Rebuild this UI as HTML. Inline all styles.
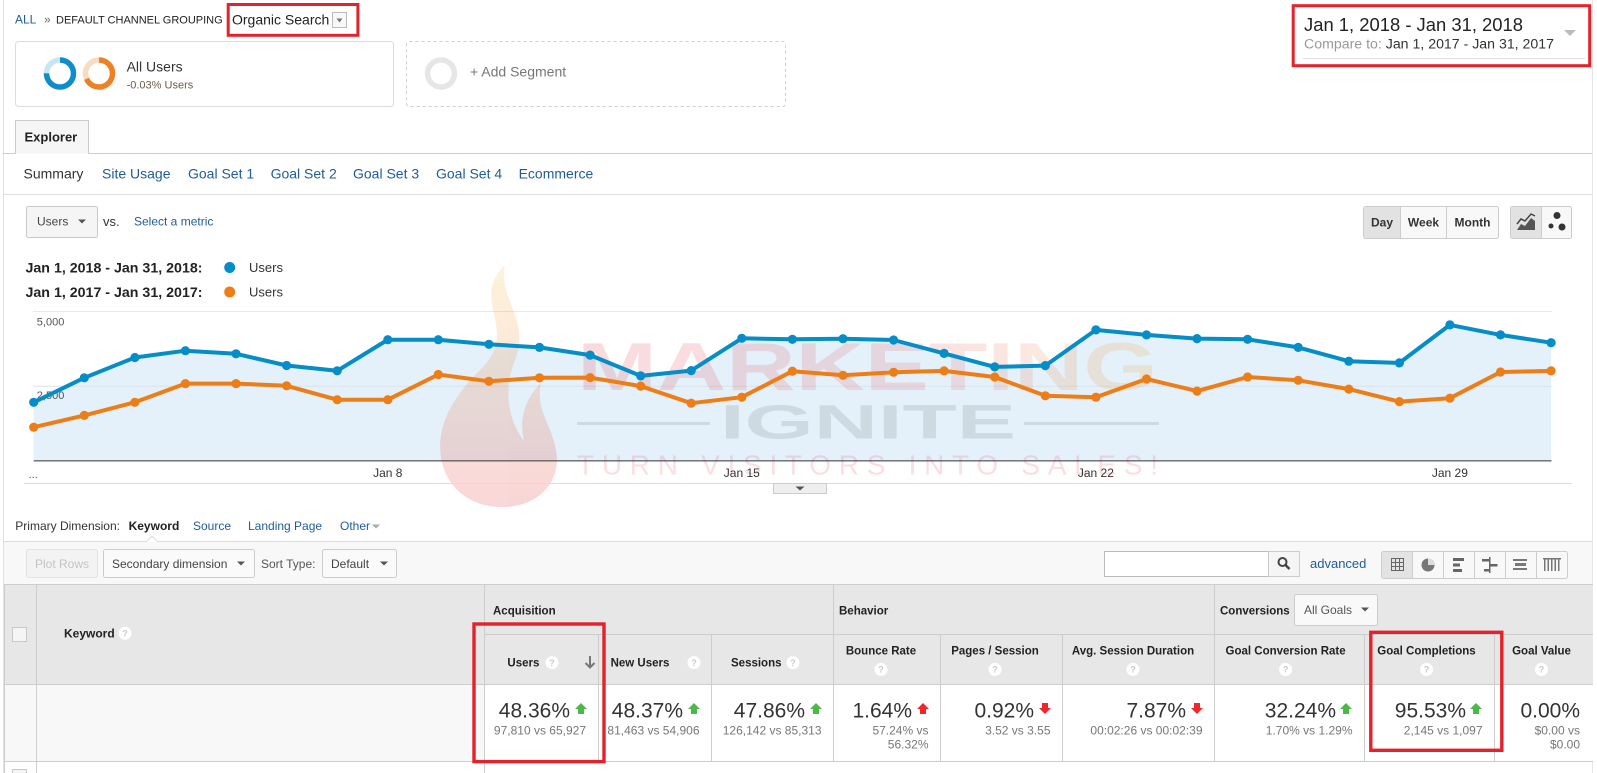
<!DOCTYPE html>
<html><head><meta charset="utf-8">
<style>
html,body{margin:0;padding:0;background:#fff;width:1597px;height:773px;overflow:hidden;}
svg{display:block}
text{font-family:"Liberation Sans",Arial,sans-serif;}
</style></head>
<body>
<svg width="1597" height="773" viewBox="0 0 1597 773" xmlns="http://www.w3.org/2000/svg">
<defs>
<linearGradient id="flame" x1="0" y1="0" x2="0" y2="1">
<stop offset="0" stop-color="#f6c34a"/><stop offset="0.5" stop-color="#ef7a3a"/><stop offset="1" stop-color="#e3343a"/>
</linearGradient>
<linearGradient id="mk" x1="0" y1="0" x2="1" y2="0">
<stop offset="0" stop-color="#e4505e"/><stop offset="0.6" stop-color="#e8707a"/><stop offset="1" stop-color="#f2b24a"/>
</linearGradient>
</defs>
<rect width="1597" height="773" fill="#fff"/>
<line x1="3.5" y1="0" x2="3.5" y2="773" stroke="#e2e2e2"/>
<line x1="1592.5" y1="0" x2="1592.5" y2="773" stroke="#e6e6e6"/>

<!-- breadcrumb -->
<text x="15" y="23.4" font-size="12" fill="#1f5c99">ALL</text>
<text x="44" y="23.4" font-size="12" fill="#666">»</text>
<text x="56" y="23.3" font-size="11" fill="#222">DEFAULT CHANNEL GROUPING</text>
<text x="232" y="24.3" font-size="14" fill="#222">Organic Search</text>
<rect x="332.5" y="12.5" width="14" height="15" fill="#f8f8f8" stroke="#bbb"/>
<path d="M336.5,18.5 h6 l-3,4 z" fill="#777"/>
<rect x="228.2" y="4.5" width="129.7" height="30.8" fill="none" stroke="#e3222b" stroke-width="3"/>

<!-- segments -->
<rect x="15.5" y="41.5" width="378" height="65" rx="3" fill="#fff" stroke="#dcdcdc"/>
<circle cx="60" cy="73.5" r="13.5" fill="none" stroke="#c9e4f3" stroke-width="5.5"/>
<circle cx="60" cy="73.5" r="13.5" fill="none" stroke="#118ccb" stroke-width="5.5" stroke-dasharray="63.6 100" transform="rotate(-90 60 73.5)"/>
<circle cx="99" cy="73.5" r="13.5" fill="none" stroke="#f8dcc0" stroke-width="5.5"/>
<circle cx="99" cy="73.5" r="13.5" fill="none" stroke="#ec8126" stroke-width="5.5" stroke-dasharray="58 100" transform="rotate(-90 99 73.5)"/>
<text x="126.6" y="71.3" font-size="14" fill="#333">All Users</text>
<text x="126.6" y="88.6" font-size="11" fill="#6d5c4a">-0.03% Users</text>
<rect x="406.5" y="41.5" width="379" height="65" rx="3" fill="none" stroke="#cfcfcf" stroke-dasharray="3 3"/>
<circle cx="441" cy="73.5" r="13.5" fill="none" stroke="#e6e6e6" stroke-width="5.5"/>
<text x="470" y="76.4" font-size="14" fill="#777">+ Add Segment</text>

<!-- date range -->
<text x="1304" y="31" font-size="18" fill="#222" textLength="219" lengthAdjust="spacingAndGlyphs">Jan 1, 2018 - Jan 31, 2018</text>
<text x="1304" y="48.6" font-size="13.5" textLength="250" lengthAdjust="spacingAndGlyphs"><tspan fill="#999">Compare to: </tspan><tspan fill="#333">Jan 1, 2017 - Jan 31, 2017</tspan></text>
<line x1="1303" y1="58.5" x2="1585" y2="58.5" stroke="#e0e0e0"/>
<path d="M1564,30 h12 l-6,6 z" fill="#bbb"/>
<rect x="1293.2" y="5.7" width="296.5" height="60" fill="none" stroke="#e3222b" stroke-width="3"/>

<!-- explorer tab -->
<path d="M15.5,153.5 V120.5 H88.5 V153.5" fill="#f6f6f6" stroke="#ccc"/>
<text x="24.5" y="141.6" font-size="13" font-weight="bold" fill="#222">Explorer</text>
<line x1="3" y1="153.5" x2="15.5" y2="153.5" stroke="#ccc"/>
<line x1="88.5" y1="153.5" x2="1592" y2="153.5" stroke="#ccc"/>
<text x="23.5" y="178.4" font-size="14" fill="#333">Summary</text>
<text x="102" y="178.4" font-size="14" fill="#1f5c99">Site Usage</text>
<text x="188" y="178.4" font-size="14" fill="#1f5c99">Goal Set 1</text>
<text x="270.6" y="178.4" font-size="14" fill="#1f5c99">Goal Set 2</text>
<text x="353" y="178.4" font-size="14" fill="#1f5c99">Goal Set 3</text>
<text x="436" y="178.4" font-size="14" fill="#1f5c99">Goal Set 4</text>
<text x="518.6" y="178.4" font-size="14" fill="#1f5c99">Ecommerce</text>
<line x1="3" y1="194.5" x2="1592" y2="194.5" stroke="#ddd"/>

<!-- metric selector -->
<rect x="26.5" y="206.5" width="71" height="31" rx="2" fill="#f5f5f5" stroke="#c8c8c8"/>
<text x="37" y="225.7" font-size="12" fill="#444">Users</text>
<path d="M78,219.5 h8 l-4,4 z" fill="#555"/>
<text x="103" y="225.9" font-size="13" fill="#333">vs.</text>
<text x="134" y="225.7" font-size="12" fill="#1f5c99">Select a metric</text>

<!-- day week month -->
<rect x="1363.5" y="206.5" width="135" height="32" rx="2" fill="#f8f8f8" stroke="#ccc"/>
<rect x="1364" y="207" width="36" height="31" fill="#e2e2e2"/>
<line x1="1400.5" y1="206.5" x2="1400.5" y2="238.5" stroke="#ccc"/>
<line x1="1446.5" y1="206.5" x2="1446.5" y2="238.5" stroke="#ccc"/>
<text x="1382" y="226.7" font-size="12" font-weight="bold" fill="#333" text-anchor="middle">Day</text>
<text x="1423.5" y="226.7" font-size="12" font-weight="bold" fill="#333" text-anchor="middle">Week</text>
<text x="1472.5" y="226.7" font-size="12" font-weight="bold" fill="#333" text-anchor="middle">Month</text>
<rect x="1510.5" y="206.5" width="61" height="32" rx="2" fill="#f8f8f8" stroke="#ccc"/>
<rect x="1511" y="207" width="30" height="31" fill="#e2e2e2"/>
<line x1="1541.5" y1="206.5" x2="1541.5" y2="238.5" stroke="#ccc"/>
<path d="M1517,230 L1521,224 L1525,226 L1531,218 L1535,221 L1535,230 Z" fill="#555"/>
<path d="M1517,224 L1521,219 L1525,221 L1531,214 L1535,216" fill="none" stroke="#444" stroke-width="1.5"/>
<circle cx="1557" cy="215.5" r="3.5" fill="#333"/>
<circle cx="1551" cy="226" r="2.5" fill="#333"/>
<circle cx="1562" cy="227" r="3.5" fill="#333"/>

<!-- legend -->
<text x="25.5" y="272.3" font-size="14" font-weight="bold" fill="#222" textLength="177" lengthAdjust="spacingAndGlyphs">Jan 1, 2018 - Jan 31, 2018:</text>
<circle cx="229.7" cy="267.5" r="5.5" fill="#058dc7"/>
<text x="249" y="272" font-size="13" fill="#333">Users</text>
<text x="25.5" y="296.8" font-size="14" font-weight="bold" fill="#222" textLength="177" lengthAdjust="spacingAndGlyphs">Jan 1, 2017 - Jan 31, 2017:</text>
<circle cx="229.7" cy="292" r="5.5" fill="#ed7e17"/>
<text x="249" y="296.5" font-size="13" fill="#333">Users</text>

<!-- chart -->
<line x1="33" y1="311.5" x2="1552" y2="311.5" stroke="#e8e8e8"/>
<polygon fill="#e4f1fa" points="33.7,402.3 84.3,377.8 134.9,357.5 185.4,350.7 236.0,353.8 286.6,365.5 337.2,370.8 387.8,339.7 438.3,339.7 488.9,344.3 539.5,347.4 590.1,355.1 640.7,375.9 691.2,370.6 741.8,338.3 792.4,339.3 843.0,338.7 893.6,340 944.1,353.4 994.7,366.9 1045.3,365.6 1095.9,329.9 1146.5,334.9 1197.0,338.6 1247.6,339.3 1298.2,347.4 1348.8,361.2 1399.4,362.9 1449.9,324.9 1500.5,334.9 1551.1,342.7 1551.1,460.9 33.7,460.9"/>
<line x1="33" y1="386.3" x2="1552" y2="386.3" stroke="#d8e3ea"/>

<!-- watermark -->
<g opacity="0.2">
<path d="M505,265 C468,300 522,330 480,370 C452,398 430,432 445,472 C456,497 480,508 505,507 C540,506 562,480 556,450 C552,425 535,410 541,383 C524,400 519,420 524,441 C508,420 503,390 515,360 C531,320 498,300 505,265 Z" fill="url(#flame)"/>
<text x="577" y="390" font-size="68" font-weight="bold" fill="url(#mk)" textLength="581" lengthAdjust="spacingAndGlyphs">MARKETING</text>
</g>
<g opacity="0.22">
<text x="720" y="438.6" font-size="48" font-weight="bold" fill="#7d8a90" textLength="296" lengthAdjust="spacingAndGlyphs">IGNITE</text>
<line x1="577" y1="423.5" x2="710" y2="423.5" stroke="#7d8a90" stroke-width="3"/>
<line x1="1024" y1="423.5" x2="1159" y2="423.5" stroke="#7d8a90" stroke-width="3"/>
</g>
<text x="577" y="474.4" font-size="28" fill="#e8606c" opacity="0.2" textLength="581" lengthAdjust="spacing">TURN VISITORS INTO SALES!</text>

<line x1="33.7" y1="460.9" x2="1551.5" y2="460.9" stroke="#333"/>
<text x="36.8" y="325.5" font-size="11" fill="#555">5,000</text>
<text x="36.8" y="398.9" font-size="11" fill="#555">2,500</text>
<text x="28.6" y="478" font-size="11" fill="#555">...</text>
<text x="387.8" y="477" font-size="12" fill="#333" text-anchor="middle">Jan 8</text>
<text x="741.8" y="477" font-size="12" fill="#333" text-anchor="middle">Jan 15</text>
<text x="1095.9" y="477" font-size="12" fill="#333" text-anchor="middle">Jan 22</text>
<text x="1449.9" y="477" font-size="12" fill="#333" text-anchor="middle">Jan 29</text>

<g fill="none" stroke-width="4" stroke-linejoin="round">
<polyline stroke="#ed7e17" points="33.7,427.2 84.3,415.4 134.9,402.3 185.4,383.6 236.0,383.6 286.6,385.8 337.2,399.7 387.8,399.7 438.3,374.5 488.9,381.3 539.5,377.8 590.1,377.6 640.7,386.1 691.2,403.2 741.8,397.2 792.4,371.2 843.0,375.3 893.6,372.3 944.1,370.9 994.7,377 1045.3,395.8 1095.9,397.2 1146.5,379 1197.0,391.1 1247.6,377 1298.2,380.3 1348.8,389.1 1399.4,401.6 1449.9,398.2 1500.5,372 1551.1,370.9"/>
<polyline stroke="#058dc7" points="33.7,402.3 84.3,377.8 134.9,357.5 185.4,350.7 236.0,353.8 286.6,365.5 337.2,370.8 387.8,339.7 438.3,339.7 488.9,344.3 539.5,347.4 590.1,355.1 640.7,375.9 691.2,370.6 741.8,338.3 792.4,339.3 843.0,338.7 893.6,340 944.1,353.4 994.7,366.9 1045.3,365.6 1095.9,329.9 1146.5,334.9 1197.0,338.6 1247.6,339.3 1298.2,347.4 1348.8,361.2 1399.4,362.9 1449.9,324.9 1500.5,334.9 1551.1,342.7"/>
</g>
<g fill="#ed7e17">
<circle cx="33.7" cy="427.2" r="4.6"/><circle cx="84.3" cy="415.4" r="4.6"/><circle cx="134.9" cy="402.3" r="4.6"/><circle cx="185.4" cy="383.6" r="4.6"/><circle cx="236.0" cy="383.6" r="4.6"/><circle cx="286.6" cy="385.8" r="4.6"/><circle cx="337.2" cy="399.7" r="4.6"/><circle cx="387.8" cy="399.7" r="4.6"/><circle cx="438.3" cy="374.5" r="4.6"/><circle cx="488.9" cy="381.3" r="4.6"/><circle cx="539.5" cy="377.8" r="4.6"/><circle cx="590.1" cy="377.6" r="4.6"/><circle cx="640.7" cy="386.1" r="4.6"/><circle cx="691.2" cy="403.2" r="4.6"/><circle cx="741.8" cy="397.2" r="4.6"/><circle cx="792.4" cy="371.2" r="4.6"/><circle cx="843.0" cy="375.3" r="4.6"/><circle cx="893.6" cy="372.3" r="4.6"/><circle cx="944.1" cy="370.9" r="4.6"/><circle cx="994.7" cy="377" r="4.6"/><circle cx="1045.3" cy="395.8" r="4.6"/><circle cx="1095.9" cy="397.2" r="4.6"/><circle cx="1146.5" cy="379" r="4.6"/><circle cx="1197.0" cy="391.1" r="4.6"/><circle cx="1247.6" cy="377" r="4.6"/><circle cx="1298.2" cy="380.3" r="4.6"/><circle cx="1348.8" cy="389.1" r="4.6"/><circle cx="1399.4" cy="401.6" r="4.6"/><circle cx="1449.9" cy="398.2" r="4.6"/><circle cx="1500.5" cy="372" r="4.6"/><circle cx="1551.1" cy="370.9" r="4.6"/>
</g>
<g fill="#058dc7">
<circle cx="33.7" cy="402.3" r="4.6"/><circle cx="84.3" cy="377.8" r="4.6"/><circle cx="134.9" cy="357.5" r="4.6"/><circle cx="185.4" cy="350.7" r="4.6"/><circle cx="236.0" cy="353.8" r="4.6"/><circle cx="286.6" cy="365.5" r="4.6"/><circle cx="337.2" cy="370.8" r="4.6"/><circle cx="387.8" cy="339.7" r="4.6"/><circle cx="438.3" cy="339.7" r="4.6"/><circle cx="488.9" cy="344.3" r="4.6"/><circle cx="539.5" cy="347.4" r="4.6"/><circle cx="590.1" cy="355.1" r="4.6"/><circle cx="640.7" cy="375.9" r="4.6"/><circle cx="691.2" cy="370.6" r="4.6"/><circle cx="741.8" cy="338.3" r="4.6"/><circle cx="792.4" cy="339.3" r="4.6"/><circle cx="843.0" cy="338.7" r="4.6"/><circle cx="893.6" cy="340" r="4.6"/><circle cx="944.1" cy="353.4" r="4.6"/><circle cx="994.7" cy="366.9" r="4.6"/><circle cx="1045.3" cy="365.6" r="4.6"/><circle cx="1095.9" cy="329.9" r="4.6"/><circle cx="1146.5" cy="334.9" r="4.6"/><circle cx="1197.0" cy="338.6" r="4.6"/><circle cx="1247.6" cy="339.3" r="4.6"/><circle cx="1298.2" cy="347.4" r="4.6"/><circle cx="1348.8" cy="361.2" r="4.6"/><circle cx="1399.4" cy="362.9" r="4.6"/><circle cx="1449.9" cy="324.9" r="4.6"/><circle cx="1500.5" cy="334.9" r="4.6"/><circle cx="1551.1" cy="342.7" r="4.6"/>
</g>

<line x1="24.5" y1="483.5" x2="1572" y2="483.5" stroke="#ddd"/>
<rect x="773.5" y="483.5" width="53" height="10" fill="#eee" stroke="#ccc"/>
<path d="M795.5,486.5 h9 l-4.5,4 z" fill="#555"/>

<!-- primary dimension -->
<text x="15.3" y="530.2" font-size="12" fill="#333">Primary Dimension:</text>
<text x="128.6" y="530.2" font-size="12" font-weight="bold" fill="#222">Keyword</text>
<text x="193" y="530.2" font-size="12" fill="#1f5c99">Source</text>
<text x="248" y="530.2" font-size="12" fill="#1f5c99">Landing Page</text>
<text x="340" y="530.2" font-size="12" fill="#1f5c99">Other</text>
<path d="M372,524.5 h8 l-4,4 z" fill="#aaa"/>

<rect x="4" y="542" width="1588" height="42" fill="#f8f8f8"/>
<line x1="3" y1="541.5" x2="1592" y2="541.5" stroke="#ddd"/>
<path d="M146,542 L152,536 L158,542" fill="#fff" stroke="#ddd"/>

<rect x="26.5" y="549.5" width="71" height="28" rx="2" fill="#f3f3f3" stroke="#e2e2e2"/>
<text x="62" y="567.8" font-size="12" fill="#c4c4c4" text-anchor="middle">Plot Rows</text>
<rect x="103.5" y="549.5" width="151" height="28" rx="2" fill="#fafafa" stroke="#ccc"/>
<text x="112" y="567.8" font-size="12" fill="#444">Secondary dimension</text>
<path d="M237,561.5 h8 l-4,4 z" fill="#555"/>
<text x="261" y="567.8" font-size="12" fill="#555">Sort Type:</text>
<rect x="322.5" y="549.5" width="74" height="28" rx="2" fill="#fafafa" stroke="#ccc"/>
<text x="331" y="567.8" font-size="12" fill="#444">Default</text>
<path d="M380,561.5 h8 l-4,4 z" fill="#555"/>

<rect x="1104.5" y="551.5" width="164" height="25" fill="#fff" stroke="#bbb"/>
<rect x="1268.5" y="551.5" width="31" height="25" fill="#f5f5f5" stroke="#ccc"/>
<circle cx="1282.5" cy="562" r="4" fill="none" stroke="#444" stroke-width="2"/>
<line x1="1285.5" y1="565" x2="1289.5" y2="569" stroke="#444" stroke-width="2.5"/>
<text x="1310" y="568" font-size="13" fill="#1f5c99">advanced</text>

<rect x="1381.5" y="551.5" width="186" height="27" rx="2" fill="#f8f8f8" stroke="#ccc"/>
<rect x="1382" y="552" width="30" height="26" fill="#e3e3e3"/>
<g stroke="#ccc"><line x1="1412.5" y1="551.5" x2="1412.5" y2="578.5"/><line x1="1443.5" y1="551.5" x2="1443.5" y2="578.5"/><line x1="1474.5" y1="551.5" x2="1474.5" y2="578.5"/><line x1="1505.5" y1="551.5" x2="1505.5" y2="578.5"/><line x1="1536.5" y1="551.5" x2="1536.5" y2="578.5"/></g>
<g stroke="#666" fill="none">
<rect x="1391.5" y="558.5" width="12" height="12"/><line x1="1395.5" y1="558.5" x2="1395.5" y2="570.5"/><line x1="1399.5" y1="558.5" x2="1399.5" y2="570.5"/><line x1="1391.5" y1="562.5" x2="1403.5" y2="562.5"/><line x1="1391.5" y1="566.5" x2="1403.5" y2="566.5"/>
</g>
<circle cx="1428" cy="565" r="6.5" fill="#777"/>
<path d="M1428,565 V558.5 A6.5,6.5 0 0 1 1434.5,565 Z" fill="#ddd"/>
<g fill="#666"><rect x="1453" y="558" width="11" height="3"/><rect x="1453" y="563.5" width="7" height="3"/><rect x="1453" y="569" width="9" height="3"/></g>
<g fill="#666"><rect x="1489" y="557" width="1.5" height="16"/><rect x="1482" y="559" width="7" height="2.5"/><rect x="1490.5" y="564" width="7" height="2.5"/><rect x="1484" y="569" width="5" height="2.5"/></g>
<g fill="#777"><rect x="1513" y="559" width="14" height="2"/><rect x="1515" y="563" width="11" height="3"/><rect x="1513" y="568" width="14" height="2"/></g>
<g fill="#777"><rect x="1544" y="558" width="1.5" height="13"/><rect x="1547.5" y="558" width="1.5" height="13"/><rect x="1551" y="558" width="1.5" height="13"/><rect x="1554.5" y="558" width="1.5" height="13"/><rect x="1558" y="558" width="1.5" height="13"/><rect x="1543" y="558" width="18" height="1.5"/></g>

<!-- table -->
<rect x="4" y="584" width="1589" height="101" fill="#e7e7e7"/>
<rect x="4" y="685" width="481" height="77" fill="#f8f8f8"/>
<rect x="485" y="685" width="1108" height="77" fill="#fff"/>
<g stroke="#cdcdcd">
<line x1="4" y1="584.5" x2="1593" y2="584.5"/>
<line x1="4.5" y1="584" x2="4.5" y2="773"/>
<line x1="36.5" y1="584" x2="36.5" y2="773"/>
<line x1="484.5" y1="584" x2="484.5" y2="773"/>
<line x1="833.5" y1="584" x2="833.5" y2="762"/>
<line x1="1214.5" y1="584" x2="1214.5" y2="762"/>
<line x1="485" y1="634.5" x2="1593" y2="634.5"/>
<line x1="598.5" y1="634" x2="598.5" y2="762"/>
<line x1="711.5" y1="634" x2="711.5" y2="762"/>
<line x1="940.5" y1="634" x2="940.5" y2="762"/>
<line x1="1062.5" y1="634" x2="1062.5" y2="762"/>
<line x1="1364.5" y1="634" x2="1364.5" y2="762"/>
<line x1="1494.5" y1="634" x2="1494.5" y2="762"/>
<line x1="4" y1="684.5" x2="1593" y2="684.5"/>
<line x1="4" y1="761.5" x2="1593" y2="761.5"/>
</g>
<rect x="12.5" y="627.5" width="14" height="14" fill="#f5f5f5" stroke="#c8c8c8"/>
<rect x="12.5" y="769.5" width="14" height="14" fill="#f5f5f5" stroke="#c8c8c8"/>

<text x="64" y="637.5" font-size="12" font-weight="bold" fill="#222">Keyword</text>
<g>
<circle cx="125" cy="633.3" r="6.5" fill="#fff"/>
<circle cx="552" cy="662.6" r="6.5" fill="#fff"/>
<circle cx="694" cy="662.6" r="6.5" fill="#fff"/>
<circle cx="793" cy="662.6" r="6.5" fill="#fff"/>
<circle cx="881" cy="669.5" r="6.5" fill="#fff"/>
<circle cx="995" cy="669.5" r="6.5" fill="#fff"/>
<circle cx="1133" cy="669.5" r="6.5" fill="#fff"/>
<circle cx="1285.6" cy="669.5" r="6.5" fill="#fff"/>
<circle cx="1426.5" cy="669.5" r="6.5" fill="#fff"/>
<circle cx="1541.5" cy="669.5" r="6.5" fill="#fff"/>
</g>
<g font-size="9" font-weight="bold" fill="#c8c8c8" text-anchor="middle">
<text x="125" y="636.5">?</text>
<text x="552" y="665.8">?</text>
<text x="694" y="665.8">?</text>
<text x="793" y="665.8">?</text>
<text x="881" y="672.7">?</text>
<text x="995" y="672.7">?</text>
<text x="1133" y="672.7">?</text>
<text x="1285.6" y="672.7">?</text>
<text x="1426.5" y="672.7">?</text>
<text x="1541.5" y="672.7">?</text>
</g>

<g font-size="11.5" font-weight="bold" fill="#222">
<text x="493" y="614.7">Acquisition</text>
<text x="839" y="614.7">Behavior</text>
<text x="1220" y="614.7">Conversions</text>
<text x="507.4" y="666.6">Users</text>
<text x="610.6" y="666.6">New Users</text>
<text x="731" y="666.6">Sessions</text>
</g>
<g font-size="11.5" font-weight="bold" fill="#222" text-anchor="middle">
<text x="881" y="654.3">Bounce Rate</text>
<text x="995" y="654.3">Pages / Session</text>
<text x="1133" y="654.3">Avg. Session Duration</text>
<text x="1285.6" y="654.3">Goal Conversion Rate</text>
<text x="1426.5" y="654.3">Goal Completions</text>
<text x="1541.5" y="654.3">Goal Value</text>
</g>
<path d="M590,656 V667 M585.5,663 L590,667.5 L594.5,663" fill="none" stroke="#777" stroke-width="2"/>

<rect x="1294.5" y="594.5" width="83" height="31" rx="2" fill="#f9f9f9" stroke="#ccc"/>
<text x="1304" y="614.2" font-size="12" fill="#555">All Goals</text>
<path d="M1361,607.5 h8 l-4,4 z" fill="#555"/>

<!-- data values -->
<g font-size="21" fill="#333" text-anchor="end">
<text x="570" y="717.5">48.36%</text>
<text x="683" y="717.5">48.37%</text>
<text x="805" y="717.5">47.86%</text>
<text x="912" y="717.5">1.64%</text>
<text x="1034" y="717.5">0.92%</text>
<text x="1186" y="717.5">7.87%</text>
<text x="1336" y="717.5">32.24%</text>
<text x="1466" y="717.5">95.53%</text>
<text x="1580" y="717.5">0.00%</text>
</g>
<g font-size="12" fill="#777" text-anchor="end">
<text x="586" y="734.6">97,810 vs 65,927</text>
<text x="699.5" y="734.6">81,463 vs 54,906</text>
<text x="821.5" y="734.6">126,142 vs 85,313</text>
<text x="928.5" y="734.6">57.24% vs</text>
<text x="928.5" y="748.6">56.32%</text>
<text x="1050.5" y="734.6">3.52 vs 3.55</text>
<text x="1202.5" y="734.6">00:02:26 vs 00:02:39</text>
<text x="1352.5" y="734.6">1.70% vs 1.29%</text>
<text x="1482.5" y="734.6">2,145 vs 1,097</text>
<text x="1580" y="734.6">$0.00 vs</text>
<text x="1580" y="748.6">$0.00</text>
</g>
<g fill="#4cb848">
<path d="M575,709 L581,703 L587,709 H584 V714 H578 V709 Z"/>
<path d="M688,709 L694,703 L700,709 H697 V714 H691 V709 Z"/>
<path d="M810,709 L816,703 L822,709 H819 V714 H813 V709 Z"/>
<path d="M1340,709 L1346,703 L1352,709 H1349 V714 H1343 V709 Z"/>
<path d="M1470,709 L1476,703 L1482,709 H1479 V714 H1473 V709 Z"/>
</g>
<g fill="#f0262d">
<path d="M917,709 L923,703 L929,709 H926 V714 H920 V709 Z"/>
<path d="M1039,708 L1045,714 L1051,708 H1048 V703 H1042 V708 Z"/>
<path d="M1191,708 L1197,714 L1203,708 H1200 V703 H1194 V708 Z"/>
</g>

<!-- red highlight boxes -->
<rect x="474" y="624" width="130" height="137.6" fill="none" stroke="#e3222b" stroke-width="3.4"/>
<rect x="1370.8" y="632.3" width="131" height="118" fill="none" stroke="#e3222b" stroke-width="3.4"/>
</svg>
</body></html>
